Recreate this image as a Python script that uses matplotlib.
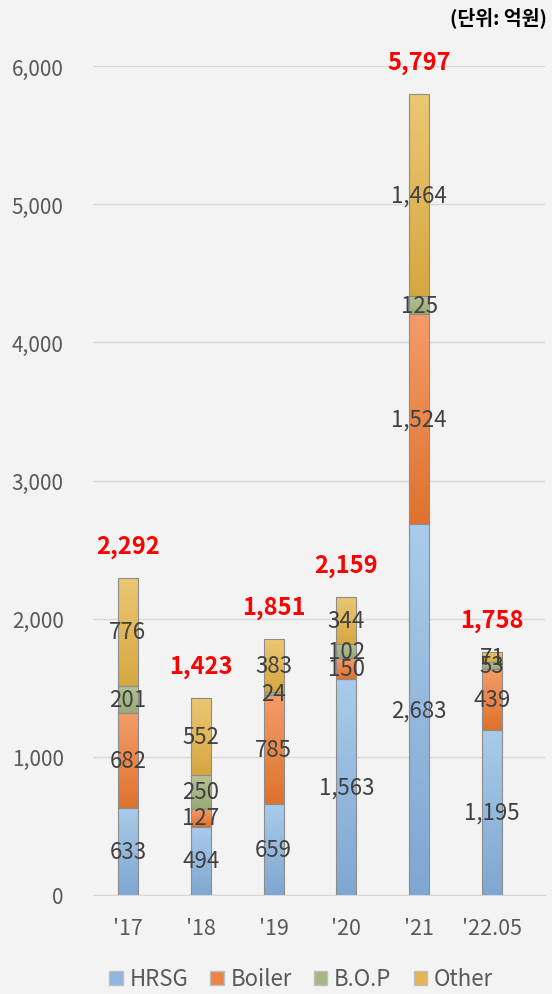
import matplotlib
matplotlib.use("Agg")
import matplotlib.pyplot as plt
from matplotlib.patches import Patch
from matplotlib.colors import LinearSegmentedColormap
import numpy as np

plt.rcParams['font.family'] = ['Noto Sans CJK KR', 'DejaVu Sans']

years = ["'17", "'18", "'19", "'20", "'21", "'22.05"]
hrsg = [633, 494, 659, 1563, 2683, 1195]
boiler = [682, 127, 785, 150, 1524, 439]
bop = [201, 250, 24, 102, 125, 53]
other = [776, 552, 383, 344, 1464, 71]
totals = [2292, 1423, 1851, 2159, 5797, 1758]

# name, values, legend colour, gradient top, gradient bottom
series = [("HRSG", hrsg, "#8fb6de", "#aacbea", "#7ea7d1"),
          ("Boiler", boiler, "#ec8447", "#f39c69", "#df722e"),
          ("B.O.P", bop, "#a7b784", "#b5c398", "#99aa77"),
          ("Other", other, "#e3b552", "#ebc774", "#d6a73f")]

fig = plt.figure(figsize=(5.52, 9.95), dpi=100)
fig.patch.set_facecolor("#f3f3f3")
ax = fig.add_axes([93 / 552, 1 - 896 / 995, 452 / 552, (896 - 67) / 995])
ax.set_facecolor("#f3f3f3")

x = np.arange(len(years))
w = 0.275
bottom = np.zeros(len(years))
grad = np.linspace(1, 0, 100).reshape(-1, 1)
for name, vals, col, top_c, bot_c in series:
    vals = np.array(vals)
    cmap = LinearSegmentedColormap.from_list(name, [bot_c, top_c])
    bars = ax.bar(x, vals, w, bottom=bottom, color="none", edgecolor="#8c8c8c",
                  linewidth=0.8, zorder=3)
    for bar, xi, b, v in zip(bars, x, bottom, vals):
        im = ax.imshow(grad, cmap=cmap, aspect="auto", zorder=2.9,
                       extent=[xi - w / 2, xi + w / 2, b, b + v], vmin=0, vmax=1)
        im.set_clip_path(bar)
        ax.text(xi, b + v / 2, f"{v:,}", ha="center", va="center",
                fontsize=16, color="#404040", zorder=4)
    bottom += vals

for xi, t in zip(x, totals):
    ax.annotate(f"{t:,}", (xi, t), xytext=(0, 23), textcoords="offset points",
                ha="center", va="center", fontsize=17, fontweight="bold",
                color="#ff0000", zorder=5)

ax.set_xlim(-0.48, 5.73)
ax.set_ylim(0, 6000)
ax.set_yticks(range(0, 6001, 1000))
ax.yaxis.set_major_formatter(matplotlib.ticker.FuncFormatter(lambda v, p: f"{int(v):,}"))
ax.grid(axis="y", color="#d9d9d9", linewidth=1, zorder=0)
ax.set_xticks(x)
ax.set_xticklabels(years)
ax.tick_params(axis="both", length=0, labelsize=15, colors="#595959")
ax.tick_params(axis="x", labelsize=15.5, pad=16)
ax.tick_params(axis="y", pad=21)
for s in ax.spines.values():
    s.set_visible(False)
ax.spines["bottom"].set_visible(True)
ax.spines["bottom"].set_color("#d9d9d9")

handles = [Patch(facecolor=c, edgecolor="#bfbfbf", label=n) for n, _, c, _, _ in series]
fig.legend(handles=handles, loc="center", bbox_to_anchor=(301 / 552, 1 - 980 / 995),
           ncol=4, frameon=False, fontsize=16, handlelength=0.6, handleheight=0.6,
           handletextpad=0.3, columnspacing=1.0, labelcolor="#595959")

fig.text(0.99, 1 - 18 / 995, "(단위: 억원)", ha="right", va="center",
         fontsize=14, fontweight="bold", color="#000000")

fig.savefig("out.png", dpi=100, facecolor=fig.get_facecolor())
